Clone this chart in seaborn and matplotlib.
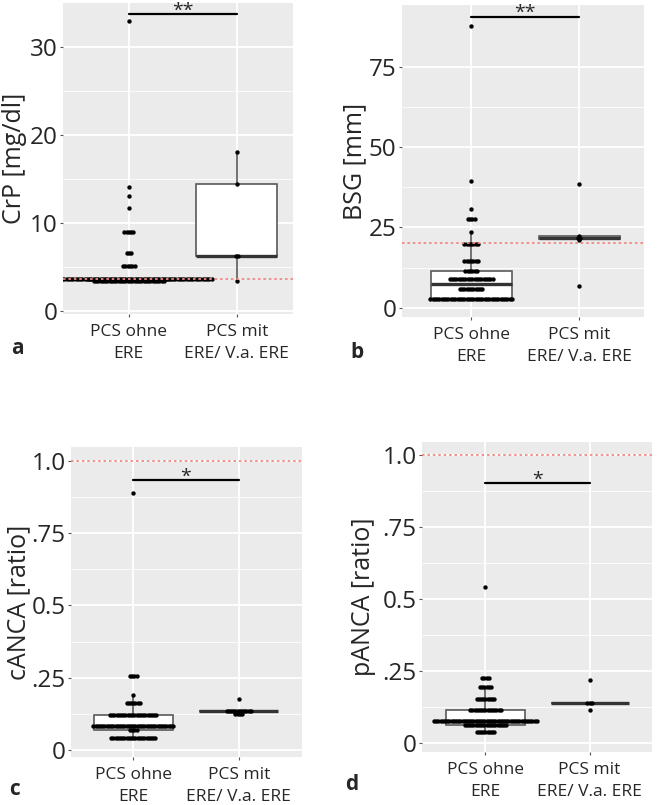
import matplotlib
matplotlib.use("Agg")
import matplotlib.pyplot as plt
import numpy as np
import pandas as pd
import seaborn as sns
from matplotlib.ticker import FixedLocator

groups = ["PCS ohne\nERE", "PCS mit\nERE/ V.a. ERE"]

# value levels and number of patients at each level (read from the dot stacks)
crp_ohne_vals = [3.4, 3.7, 5.1, 6.6, 9.0, 11.7, 13.1, 14.1, 33.0]
crp_ohne_counts = [32, 74, 6, 3, 5, 1, 1, 1, 1]
crp_mit_vals = [3.4, 6.3, 14.4, 18.1]
crp_mit_counts = [1, 2, 1, 1]

bsg_ohne_vals = [2.7, 5.7, 8.8, 11.4, 14.6, 19.7, 23.6, 27.5, 30.6, 39.5, 87.7]
bsg_ohne_counts = [37, 11, 20, 6, 7, 7, 1, 4, 1, 1, 1]
bsg_mit_vals = [6.6, 21.2, 21.8, 22.4, 38.6]
bsg_mit_counts = [1, 1, 2, 1, 1]

canca_ohne_vals = [0.044, 0.069, 0.084, 0.122, 0.163, 0.19, 0.255, 0.889]
canca_ohne_counts = [21, 4, 37, 22, 7, 1, 4, 1]
canca_mit_vals = [0.124, 0.136, 0.178]
canca_mit_counts = [4, 12, 1]

panca_ohne_vals = [0.035, 0.06, 0.074, 0.114, 0.153, 0.194, 0.223, 0.54]
panca_ohne_counts = [9, 20, 48, 15, 9, 6, 4, 1]
panca_mit_vals = [0.112, 0.136, 0.219]
panca_mit_counts = [1, 3, 1]

ylabels = ["CrP [mg/dl]", "BSG [mm]", "cANCA [ratio]", "pANCA [ratio]"]
ref_lines = [3.7, 20, 1.0, 1.0]
sig_levels = [33.7, 90.6, 0.932, 0.904]
sig_stars = ["**", "**", "*", "*"]
panel_letters = ["a", "b", "c", "d"]
yticks = [[0, 10, 20, 30], [0, 25, 50, 75], [0, 0.25, 0.5, 0.75, 1.0], [0, 0.25, 0.5, 0.75, 1.0]]
yticklabels = [["0", "10", "20", "30"], ["0", "25", "50", "75"],
               ["0", ".25", "0.5", ".75", "1.0"], ["0", ".25", "0.5", ".75", "1.0"]]

panels = [
    (crp_ohne_vals, crp_ohne_counts, crp_mit_vals, crp_mit_counts),
    (bsg_ohne_vals, bsg_ohne_counts, bsg_mit_vals, bsg_mit_counts),
    (canca_ohne_vals, canca_ohne_counts, canca_mit_vals, canca_mit_counts),
    (panca_ohne_vals, panca_ohne_counts, panca_mit_vals, panca_mit_counts),
]

# layout (figure pixels, 668 x 805)
W, H = 668, 805
boxes_px = [(63, 3, 293, 314), (402, 5, 644, 317), (71, 447, 302, 757), (422, 442, 652, 752)]
xlims = [(-0.61, 1.52), (-0.64, 1.6), (-0.59, 1.6), (-0.61, 1.6)]
ylims = [(-0.3, 35.0), (-2.9, 94.2), (-0.023, 1.047), (-0.033, 1.046)]
label_x = [-0.155, -0.145, -0.17, -0.2]
letter_pos = [(17, 354), (357, 358), (15, 795), (352, 790)]
dot_step = 0.021

sns.set_theme(style="darkgrid", rc={"axes.facecolor": "#EBEBEB", "grid.color": "white"})
plt.rcParams["font.family"] = ["Open Sans", "DejaVu Sans"]

fig = plt.figure(figsize=(W / 100, H / 100), dpi=100)
fig.patch.set_facecolor("white")

for i, (v0, c0, v1, c1) in enumerate(panels):
    l, t, r, b = boxes_px[i]
    ax = fig.add_axes([l / W, 1 - b / H, (r - l) / W, (b - t) / H])

    df = pd.DataFrame({
        "group": [groups[0]] * sum(c0) + [groups[1]] * sum(c1),
        "value": np.concatenate([np.repeat(v0, c0), np.repeat(v1, c1)]),
    })
    sns.boxplot(data=df, x="group", y="value", order=groups, ax=ax, width=0.75,
                whis=1.5, showfliers=False, showcaps=False, color="white",
                saturation=1, linecolor="#595959", linewidth=1.2,
                medianprops={"color": "#333333", "linewidth": 2.4})

    # centred dot stacks like a ggplot dotplot
    xs, ys = [], []
    for gi, (vals, counts) in enumerate([(v0, c0), (v1, c1)]):
        for v, n in zip(vals, counts):
            off = (np.arange(n) - (n - 1) / 2) * dot_step
            xs.extend(gi + off)
            ys.extend([v] * n)
    sns.scatterplot(x=xs, y=ys, color="black", s=10, linewidth=0, ax=ax,
                    zorder=4, legend=False)

    ax.axhline(ref_lines[i], color="#F08A84", lw=1.3, ls=(0, (1.4, 1.6)), zorder=5)
    ax.plot([0, 1], [sig_levels[i]] * 2, color="black", lw=1.6, zorder=5)
    ax.annotate(sig_stars[i], xy=(0.5, sig_levels[i]), xytext=(0, -4),
                textcoords="offset points", ha="center", va="bottom", fontsize=14)

    ax.set_xlim(*xlims[i])
    ax.set_ylim(*ylims[i])
    ax.set_yticks(yticks[i])
    ax.set_yticklabels(yticklabels[i])
    mt = yticks[i]
    ax.yaxis.set_minor_locator(FixedLocator([(a + b2) / 2 for a, b2 in zip(mt[:-1], mt[1:])]))
    ax.set_xticks([0, 1])
    ax.set_xticklabels(groups, fontsize=12.5, linespacing=1.45)
    ax.grid(which="major", color="white", lw=1.3)
    ax.grid(which="minor", axis="y", color="white", lw=0.6)
    ax.set_axisbelow(True)
    ax.tick_params(axis="y", which="major", labelsize=17.5, length=2.5, width=0.8,
                   color="#555555", pad=1.5, left=True)
    ax.tick_params(axis="x", which="major", length=2.5, width=0.8, color="#555555",
                   pad=5, bottom=True)
    ax.tick_params(which="minor", length=0)
    for sp in ax.spines.values():
        sp.set_visible(False)
    ax.set_xlabel("")
    ax.set_ylabel(ylabels[i], fontsize=18)
    ax.yaxis.set_label_coords(label_x[i], 0.5)

    lx, ly = letter_pos[i]
    fig.text(lx / W, 1 - ly / H, panel_letters[i], fontsize=15, fontweight="bold",
             ha="center", va="baseline")

fig.savefig("out.png", dpi=100, facecolor="white")
